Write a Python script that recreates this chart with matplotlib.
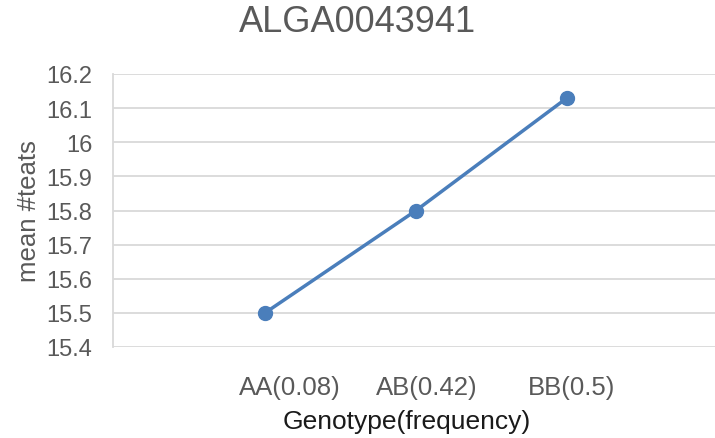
import numpy as np
import matplotlib.pyplot as plt
import matplotlib.transforms as mtransforms

# genotype means
genotypes = ["AA(0.08)", "AB(0.42)", "BB(0.5)"]
mean_teats = [15.5, 15.8, 16.13]
y_ticks = [15.4, 15.5, 15.6, 15.7, 15.8, 15.9, 16.0, 16.1, 16.2]

plt.rcParams['font.family'] = ['Liberation Sans', 'DejaVu Sans']

fig = plt.figure(figsize=(7.15, 4.39), dpi=100)
ax = fig.add_axes([113/715, 91/439, 602/715, 273/439])

x = np.arange(len(genotypes))
ax.plot(x, mean_teats, color='#4A7EBB', lw=2.5, marker='o', markersize=10, zorder=3)

ax.set_xlim(-1.007, 2.98)
ax.set_ylim(y_ticks[0], y_ticks[-1])
ax.set_yticks(y_ticks)
ax.set_yticklabels(['%g' % v for v in y_ticks])
ax.grid(axis='y', color='#D9D9D9', lw=1.3)
ax.set_axisbelow(True)

# category labels, Excel put them a bit right of the points
ax.set_xticks(x)
ax.set_xticklabels([])
for xi, lab, dx in zip(x, genotypes, [25, 11, 5]):
    tr = ax.get_xaxis_transform() + mtransforms.ScaledTranslation(dx/100, -0.40, fig.dpi_scale_trans)
    ax.text(xi, 0, lab, transform=tr, ha='center', va='center', fontsize=18.5, color='#595959')

ax.tick_params(axis='both', length=0, colors='#595959', labelsize=17)
ax.tick_params(axis='y', pad=15)

for s in ['top', 'right', 'bottom']:
    ax.spines[s].set_visible(False)
ax.spines['left'].set_color('#D9D9D9')
ax.spines['left'].set_linewidth(1.3)

ax.set_ylabel('mean #teats', fontsize=18.5, color='#595959', labelpad=4)
ax.set_xlabel('Genotype(frequency)', fontsize=19, color='#1a1a1a')
ax.xaxis.set_label_coords(0.488, -0.228)

fig.text(0.5, 1 - 22/439, 'ALGA0043941', fontsize=26, color='#595959', ha='center', va='center')

fig.savefig('out.png', dpi=100)
